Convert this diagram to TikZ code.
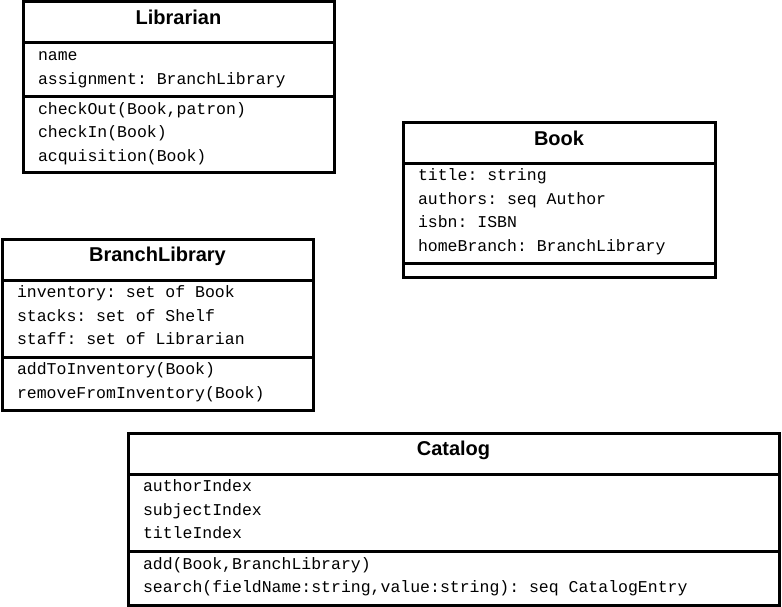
\documentclass[tikz,border=0pt]{standalone}
\usepackage{fontspec}
\setsansfont{Liberation Sans}
\setmonofont{Liberation Mono}
\usetikzlibrary{positioning}
\newcommand{\codefont}{\ttfamily\fontsize{16.5}{23.5}\selectfont}
\newcommand{\codestart}{\spaceskip=9.9pt\relax\xspaceskip=9.9pt\relax\rule{0pt}{14.5pt}}
\newcommand{\codeend}{\rule[-9pt]{0pt}{0pt}}

\begin{document}
\begin{tikzpicture}[
  x=1pt, y=-1pt,
  box/.style={draw, line width=3pt, outer sep=0pt, inner sep=0pt},
  head/.style={box, anchor=north west, font=\sffamily\bfseries\fontsize{20}{23}\selectfont,
    text height=14pt, text depth=10pt},
  part/.style={box, align=left, inner xsep=15pt, font=\codefont,
    execute at begin node=\codestart, execute at end node=\codeend}
]
\useasboundingbox (0,0) rectangle (782,607);

% Librarian
\node[head, minimum width=311pt, minimum height=41pt] (librarian) at (23,2) {Librarian};
\node[part, below=0pt of librarian, text width=281pt, minimum height=54pt] (librarianattr)
  {name\\assignment: BranchLibrary};
\node[part, below=0pt of librarianattr, text width=281pt, minimum height=76pt] (librarianops)
  {checkOut(Book,patron)\\checkIn(Book)\\acquisition(Book)};

% Book
\node[head, minimum width=312pt, minimum height=41pt] (book) at (403,123) {Book};
\node[part, below=0pt of book, text width=282pt, minimum height=99pt] (bookattr)
  {title: string\\authors: seq Author\\isbn: ISBN\\homeBranch: BranchLibrary};
\node[box, below=0pt of bookattr, minimum width=312pt, minimum height=14pt] (bookops) {};

% BranchLibrary
\node[head, minimum width=311pt, minimum height=41pt] (branch) at (2,239) {BranchLibrary};
\node[part, below=0pt of branch, text width=281pt, minimum height=77pt] (branchattr)
  {inventory: set of Book\\stacks: set of Shelf\\staff: set of Librarian};
\node[part, below=0pt of branchattr, text width=281pt, minimum height=53pt] (branchops)
  {addToInventory(Book)\\removeFromInventory(Book)};

% Catalog
\node[head, minimum width=651pt, minimum height=41pt] (catalog) at (128,433) {Catalog};
\node[part, below=0pt of catalog, text width=621pt, minimum height=77pt] (catalogattr)
  {authorIndex\\subjectIndex\\titleIndex};
\node[part, below=0pt of catalogattr, text width=621pt, minimum height=54pt] (catalogops)
  {add(Book,BranchLibrary)\\search(fieldName:string,value:string): seq CatalogEntry};
\end{tikzpicture}
\end{document}
